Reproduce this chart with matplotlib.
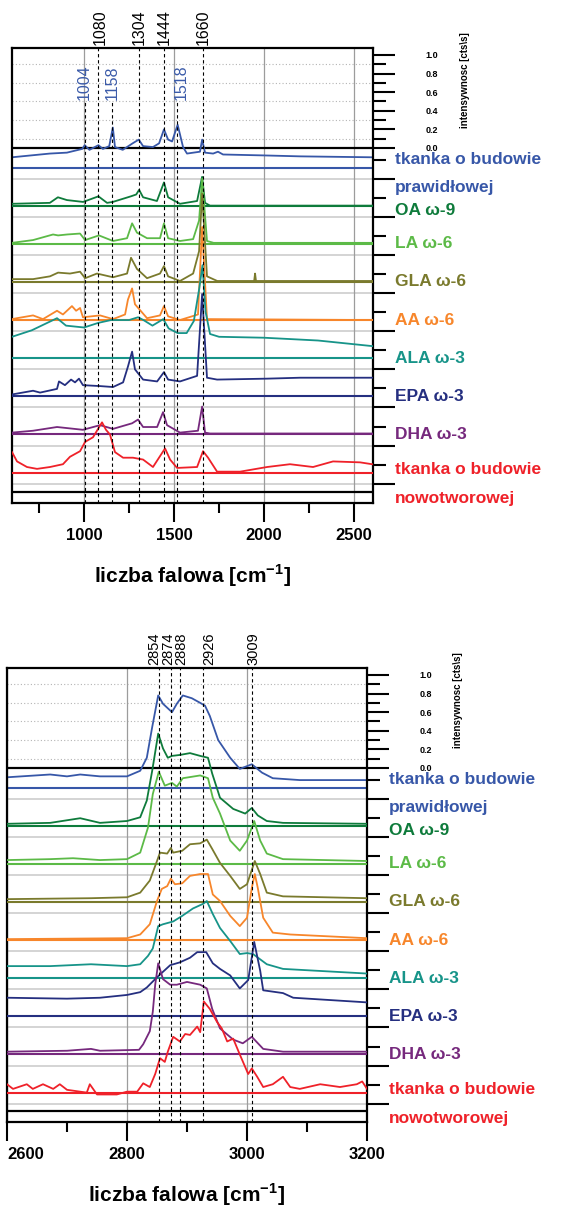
import matplotlib.pyplot as plt
from matplotlib.transforms import blended_transform_factory

plt.rcParams['font.family'] = ['Liberation Sans', 'DejaVu Sans']
plt.rcParams['mathtext.fontset'] = 'custom'
plt.rcParams['mathtext.bf'] = 'Liberation Sans:bold'
plt.rcParams['mathtext.rm'] = 'Liberation Sans:bold'

# series names (one list per line of the label) and colours
names = [['tkanka o budowie', 'prawidłowej'], ['OA ω-9'], ['LA ω-6'], ['GLA ω-6'], ['AA ω-6'],
         ['ALA ω-3'], ['EPA ω-3'], ['DHA ω-3'], ['tkanka o budowie', 'nowotworowej']]
colors = ['#3757a8', '#0e7b3b', '#5cba47', '#7a7a2d', '#f7862b',
          '#179489', '#252f80', '#76297d', '#ef2129']

# ---- fingerprint region (wavenumber, intensity above own baseline) ----
fp_normal = [(600, 0.11), (810, 0.15), (905, 0.16), (990, 0.20), (1004, 0.24), (1030, 0.19), (1080, 0.24),
             (1105, 0.20), (1140, 0.23), (1160, 0.43), (1172, 0.22), (1215, 0.19), (1270, 0.26), (1304, 0.30),
             (1328, 0.23), (1383, 0.22), (1417, 0.26), (1444, 0.41), (1467, 0.30), (1489, 0.28), (1520, 0.46),
             (1550, 0.22), (1572, 0.15), (1644, 0.17), (1656, 0.30), (1672, 0.16), (1717, 0.15), (1744, 0.17),
             (1772, 0.14), (2000, 0.13), (2200, 0.12), (2600, 0.11)]
fp_oa = [(600, 0.02), (810, 0.03), (855, 0.09), (905, 0.06), (995, 0.04), (1080, 0.10), (1128, 0.03),
         (1160, 0.04), (1260, 0.10), (1290, 0.12), (1306, 0.17), (1328, 0.09), (1405, 0.05), (1444, 0.25),
         (1467, 0.09), (1533, 0.02), (1628, 0.05), (1656, 0.31), (1672, 0.03), (1700, 0.0), (2600, 0.0)]
fp_la = [(600, 0.01), (717, 0.04), (828, 0.10), (856, 0.09), (906, 0.10), (978, 0.11), (1006, 0.04),
         (1083, 0.09), (1161, 0.03), (1239, 0.06), (1267, 0.22), (1294, 0.12), (1350, 0.06), (1422, 0.06),
         (1444, 0.22), (1467, 0.06), (1533, 0.03), (1606, 0.05), (1639, 0.25), (1656, 0.70), (1683, 0.03),
         (1720, 0.01), (2600, 0.01)]
fp_gla = [(600, 0.03), (717, 0.03), (811, 0.06), (856, 0.10), (922, 0.09), (978, 0.11), (1006, 0.04),
          (1072, 0.09), (1161, 0.05), (1239, 0.09), (1261, 0.26), (1294, 0.14), (1350, 0.04), (1422, 0.09),
          (1444, 0.17), (1467, 0.06), (1533, 0.01), (1606, 0.09), (1639, 0.33), (1656, 0.95), (1683, 0.06),
          (1740, 0.01), (1945, 0.01), (1950, 0.09), (1955, 0.01), (2600, 0.01)]
fp_aa = [(600, 0.01), (628, 0.02), (717, 0.05), (772, 0.01), (850, 0.10), (883, 0.06), (933, 0.15),
         (956, 0.10), (978, 0.13), (994, 0.03), (1089, 0.05), (1161, 0.01), (1228, 0.06), (1244, 0.22),
         (1267, 0.34), (1283, 0.17), (1350, 0.02), (1422, 0.05), (1444, 0.15), (1467, 0.04), (1533, 0.0),
         (1633, 0.06), (1656, 1.0), (1683, 0.01), (2600, 0.0)]
fp_ala = [(600, 0.23), (710, 0.30), (850, 0.43), (900, 0.35), (1000, 0.33), (1080, 0.38), (1150, 0.41),
          (1250, 0.41), (1300, 0.44), (1330, 0.41), (1380, 0.35), (1440, 0.42), (1470, 0.32), (1520, 0.27),
          (1570, 0.27), (1610, 0.40), (1640, 0.75), (1658, 1.0), (1675, 0.5), (1700, 0.26), (1750, 0.23),
          (2000, 0.22), (2300, 0.19), (2600, 0.13)]
fp_epa = [(600, 0.02), (717, 0.06), (756, 0.04), (850, 0.08), (861, 0.16), (894, 0.12), (928, 0.18),
          (950, 0.15), (972, 0.19), (994, 0.12), (1089, 0.11), (1161, 0.10), (1217, 0.15), (1244, 0.32),
          (1267, 0.48), (1283, 0.29), (1328, 0.18), (1406, 0.16), (1444, 0.26), (1467, 0.18), (1533, 0.16),
          (1628, 0.22), (1656, 1.1), (1683, 0.20), (1739, 0.18), (2017, 0.19), (2200, 0.20), (2600, 0.20)]
fp_dha = [(600, 0.02), (717, 0.04), (850, 0.08), (994, 0.05), (1089, 0.10), (1161, 0.06), (1267, 0.12),
          (1300, 0.16), (1328, 0.08), (1406, 0.08), (1439, 0.24), (1461, 0.10), (1533, 0.02), (1633, 0.04),
          (1656, 0.30), (1672, 0.02), (1700, 0.01), (2600, 0.01)]
fp_tumor = [(600, 0.22), (628, 0.12), (683, 0.06), (739, 0.04), (811, 0.06), (883, 0.09), (922, 0.17),
            (978, 0.23), (1006, 0.33), (1050, 0.38), (1078, 0.47), (1100, 0.54), (1122, 0.46), (1144, 0.41),
            (1172, 0.22), (1217, 0.16), (1272, 0.16), (1328, 0.14), (1383, 0.06), (1450, 0.26), (1478, 0.14),
            (1517, 0.05), (1628, 0.06), (1661, 0.23), (1689, 0.16), (1739, 0.01), (1867, 0.01), (2017, 0.06),
            (2144, 0.09), (2272, 0.06), (2383, 0.12), (2533, 0.11), (2600, 0.09)]

# ---- C-H stretching region ----
ch_normal = [(2600, 0.11), (2672, 0.14), (2700, 0.12), (2722, 0.14), (2755, 0.12), (2800, 0.12), (2822, 0.18),
             (2833, 0.32), (2842, 0.65), (2852, 0.99), (2860, 0.90), (2875, 0.81), (2883, 0.90), (2893, 0.99),
             (2908, 0.96), (2922, 0.91), (2930, 0.88), (2938, 0.77), (2952, 0.51), (2972, 0.32), (2988, 0.20),
             (3008, 0.25), (3025, 0.16), (3043, 0.10), (3088, 0.08), (3200, 0.08)]
ch_oa = [(2600, 0.02), (2672, 0.03), (2722, 0.08), (2755, 0.03), (2800, 0.05), (2822, 0.09), (2833, 0.27),
         (2842, 0.59), (2852, 0.99), (2860, 0.83), (2868, 0.73), (2875, 0.75), (2888, 0.76), (2905, 0.78),
         (2922, 0.75), (2935, 0.73), (2942, 0.56), (2955, 0.30), (2977, 0.18), (2997, 0.13), (3008, 0.19),
         (3018, 0.11), (3033, 0.05), (3060, 0.03), (3200, 0.02)]
ch_la = [(2600, 0.04), (2672, 0.05), (2710, 0.06), (2755, 0.04), (2800, 0.05), (2822, 0.12), (2835, 0.39),
         (2843, 0.75), (2853, 0.99), (2863, 0.84), (2875, 0.87), (2883, 0.83), (2893, 0.92), (2922, 0.95),
         (2935, 0.92), (2943, 0.71), (2955, 0.54), (2972, 0.25), (2988, 0.14), (3000, 0.25), (3012, 0.46),
         (3022, 0.25), (3033, 0.11), (3060, 0.05), (3200, 0.03)]
ch_gla = [(2600, 0.03), (2740, 0.04), (2800, 0.05), (2822, 0.10), (2838, 0.23), (2850, 0.44), (2855, 0.53),
          (2867, 0.52), (2873, 0.58), (2877, 0.53), (2892, 0.55), (2905, 0.62), (2922, 0.63), (2933, 0.67),
          (2942, 0.57), (2955, 0.42), (2972, 0.28), (2988, 0.14), (3000, 0.19), (3013, 0.44), (3022, 0.30),
          (3033, 0.10), (3060, 0.06), (3200, 0.04)]
ch_aa = [(2600, 0.01), (2800, 0.02), (2822, 0.06), (2838, 0.17), (2850, 0.42), (2858, 0.55), (2867, 0.58),
         (2873, 0.66), (2880, 0.60), (2892, 0.61), (2905, 0.69), (2922, 0.71), (2935, 0.71), (2943, 0.49),
         (2955, 0.42), (2972, 0.26), (2988, 0.15), (3000, 0.24), (3008, 0.56), (3013, 0.71), (3018, 0.56),
         (3027, 0.24), (3043, 0.08), (3072, 0.06), (3200, 0.02)]
ch_ala = [(2600, 0.13), (2672, 0.13), (2740, 0.15), (2800, 0.13), (2822, 0.15), (2835, 0.24), (2843, 0.32),
          (2852, 0.56), (2860, 0.58), (2877, 0.61), (2892, 0.67), (2910, 0.75), (2927, 0.80), (2933, 0.83),
          (2943, 0.69), (2955, 0.54), (2972, 0.40), (2988, 0.26), (3000, 0.27), (3010, 0.26), (3033, 0.15),
          (3060, 0.10), (3200, 0.05)]
ch_epa = [(2600, 0.20), (2700, 0.19), (2755, 0.20), (2800, 0.23), (2822, 0.26), (2833, 0.31), (2850, 0.42),
          (2872, 0.55), (2888, 0.58), (2905, 0.63), (2917, 0.69), (2932, 0.69), (2943, 0.57), (2955, 0.51),
          (2972, 0.44), (2988, 0.30), (3002, 0.39), (3012, 0.80), (3022, 0.49), (3027, 0.28), (3060, 0.25),
          (3077, 0.20), (3200, 0.15)]
ch_dha = [(2600, 0.03), (2700, 0.04), (2740, 0.06), (2755, 0.04), (2820, 0.05), (2827, 0.11), (2838, 0.25),
          (2843, 0.46), (2847, 0.75), (2852, 0.98), (2860, 0.81), (2872, 0.75), (2883, 0.75), (2900, 0.78),
          (2922, 0.75), (2933, 0.71), (2942, 0.49), (2955, 0.28), (2977, 0.16), (2993, 0.12), (3008, 0.19),
          (3027, 0.06), (3060, 0.03), (3200, 0.03)]
ch_tumor = [(2600, 0.09), (2610, 0.04), (2633, 0.09), (2643, 0.04), (2660, 0.09), (2677, 0.04), (2688, 0.09),
            (2700, 0.03), (2733, 0.0), (2738, 0.09), (2750, -0.02), (2783, -0.02), (2800, 0.01), (2817, 0.01),
            (2827, 0.10), (2838, 0.06), (2847, 0.20), (2855, 0.37), (2863, 0.33), (2868, 0.44), (2877, 0.60),
            (2888, 0.55), (2897, 0.63), (2905, 0.62), (2917, 0.71), (2922, 0.65), (2928, 0.98), (2938, 0.90),
            (2950, 0.76), (2958, 0.69), (2967, 0.55), (2977, 0.58), (2988, 0.41), (3002, 0.20), (3008, 0.26),
            (3017, 0.17), (3027, 0.06), (3043, 0.09), (3060, 0.17), (3072, 0.06), (3088, 0.04), (3122, 0.09),
            (3155, 0.06), (3183, 0.09), (3192, 0.12), (3200, 0.04)]

fp_spectra = [fp_normal, fp_oa, fp_la, fp_gla, fp_aa, fp_ala, fp_epa, fp_dha, fp_tumor]
ch_spectra = [ch_normal, ch_oa, ch_la, ch_gla, ch_aa, ch_ala, ch_epa, ch_dha, ch_tumor]

fp_bands_black = [1080, 1304, 1444, 1660]
fp_bands_blue = [1004, 1158, 1518]
ch_bands = [2854, 2874, 2888, 2926, 3009]

fp_ticks = [1000, 1500, 2000, 2500]
fp_minor = [750, 1250, 1750, 2250]
ch_ticks = [2600, 2800, 3000, 3200]
ch_minor = [2700, 2900, 3100]

intens_ticks = [0.0, 0.2, 0.4, 0.6, 0.8, 1.0]

STEP = 0.41
FIRST = -0.21


def draw_panel(ax, spectra, xlim, ticks, minor, bands_black, nudge_black, bands_blue, nudge_blue,
               ylim, band_fs):
    ax.set_xlim(*xlim)
    ax.set_ylim(*ylim)
    n = len(spectra)
    bases = [FIRST - STEP * i for i in range(n)]

    # grid in the intensity box (dotted) and the stacked part (solid)
    for v in [0.1, 0.3, 0.5, 0.7, 0.9]:
        ax.axhline(v, color='#b4b4b4', lw=0.8, ls=(0, (1, 2)), zorder=0)
    for b in bases:
        ax.axhline(b - 0.12, color='#cdcdcd', lw=1.2, zorder=0)
    for t in ticks:
        ax.axvline(t, color='#9c9c9c', lw=0.9, zorder=0)

    ax.axhline(0, color='k', lw=1.6, zorder=1)
    ax.axhline(ylim[0] + 0.115, color='k', lw=1.6, zorder=1)

    for i, (spec, col, b) in enumerate(zip(spectra, colors, bases)):
        xs = [p[0] for p in spec]
        ys = [b + p[1] for p in spec]
        ax.axhline(b, color=col, lw=1.5, zorder=2 + i)
        ax.plot(xs, ys, color=col, lw=1.3, zorder=2 + i)

    trans = blended_transform_factory(ax.transData, ax.transAxes)
    for w, dx in zip(bands_black, nudge_black):
        ax.axvline(w, color='k', lw=0.8, ls=(0, (3, 2.5)), zorder=20)
        ax.annotate(str(w), xy=(w, 1.006), xycoords=trans, xytext=(dx, 0), textcoords='offset points',
                    rotation=90, ha='center', va='bottom', fontsize=band_fs, annotation_clip=False)
    ymax_blue = (0.50 - ylim[0]) / (ylim[1] - ylim[0])
    for w, dx in zip(bands_blue, nudge_blue):
        ax.axvline(w, ymax=ymax_blue, color='k', lw=0.8, ls=(0, (3, 2.5)), zorder=20)
        ax.annotate(str(w), xy=(w, 0.52), xytext=(dx, 0), textcoords='offset points',
                    rotation=90, ha='center', va='bottom', fontsize=band_fs, color='#3b5ba9')

    # series labels right of the plot
    tlab = blended_transform_factory(ax.transAxes, ax.transData)
    for i, (lines, col, b) in enumerate(zip(names, colors, bases)):
        if i == 0:
            y0 = b + 0.09
        elif i == 1:
            y0 = b - 0.05
        elif len(lines) > 1:
            y0 = b + 0.03
        else:
            y0 = b
        for k, line in enumerate(lines):
            ax.text(1.06, y0 - 0.31 * k, line, color=col, fontsize=12.5, fontweight='bold',
                    va='center', ha='left', transform=tlab, clip_on=False)

    # x axis
    ax.set_xticks(ticks)
    ax.set_xticklabels([str(t) for t in ticks], fontweight='bold')
    ax.set_xticks(minor, minor=True)
    ax.tick_params(axis='x', which='major', direction='out', length=14, width=1.5,
                   labelsize=12, pad=4, top=False)
    ax.tick_params(axis='x', which='minor', direction='out', length=7, width=1.5, top=False)

    # right intensity axis
    ax.yaxis.tick_right()
    long_ticks = intens_ticks + [b - 0.12 for b in bases]
    short_ticks = [0.1, 0.3, 0.5, 0.7, 0.9] + [b + 0.085 for b in bases]
    ax.set_yticks(long_ticks)
    ax.set_yticklabels(['%.1f' % t for t in intens_ticks] + [''] * len(bases), fontweight='bold')
    ax.set_yticks(short_ticks, minor=True)
    ax.tick_params(axis='y', which='major', direction='out', length=16, width=1.5,
                   labelsize=6.5, pad=22, left=False, right=True)
    ax.tick_params(axis='y', which='minor', direction='out', length=9, width=1.5,
                   left=False, right=True)

    for s in ax.spines.values():
        s.set_linewidth(1.6)
        s.set_color('k')

    ax.set_xlabel('liczba falowa [cm$^{\\bf{-1}}$]', fontsize=15, fontweight='bold', labelpad=14)


fig = plt.figure(figsize=(5.84, 12.08), dpi=100)
W, H = 584, 1208

ax1 = fig.add_axes([12 / W, 1 - 503 / H, 361 / W, 455 / H])
draw_panel(ax1, fp_spectra, (600, 2605), fp_ticks, fp_minor, fp_bands_black, [1, 0, 0, 0],
           fp_bands_blue, [-0.5, 0, 3], (-3.817, 1.075), 11.5)

ax2 = fig.add_axes([7 / W, 1 - 1122 / H, 360 / W, 454 / H])
draw_panel(ax2, ch_spectra, (2600, 3200), ch_ticks, ch_minor, ch_bands, [-4, -2.5, 1, 5, 1],
           [], [], (-3.806, 1.075), 10.5)
ax2.get_xticklabels()[0].set_horizontalalignment('left')

fig.text(465 / W, 1 - 80 / H, 'intensywnosc [cts\\s]', rotation=90, ha='center', va='center',
         fontsize=7, fontweight='bold')
fig.text(458 / W, 1 - 700 / H, 'intensywnosc [cts\\s]', rotation=90, ha='center', va='center',
         fontsize=7, fontweight='bold')

fig.savefig('out.png', dpi=100)
